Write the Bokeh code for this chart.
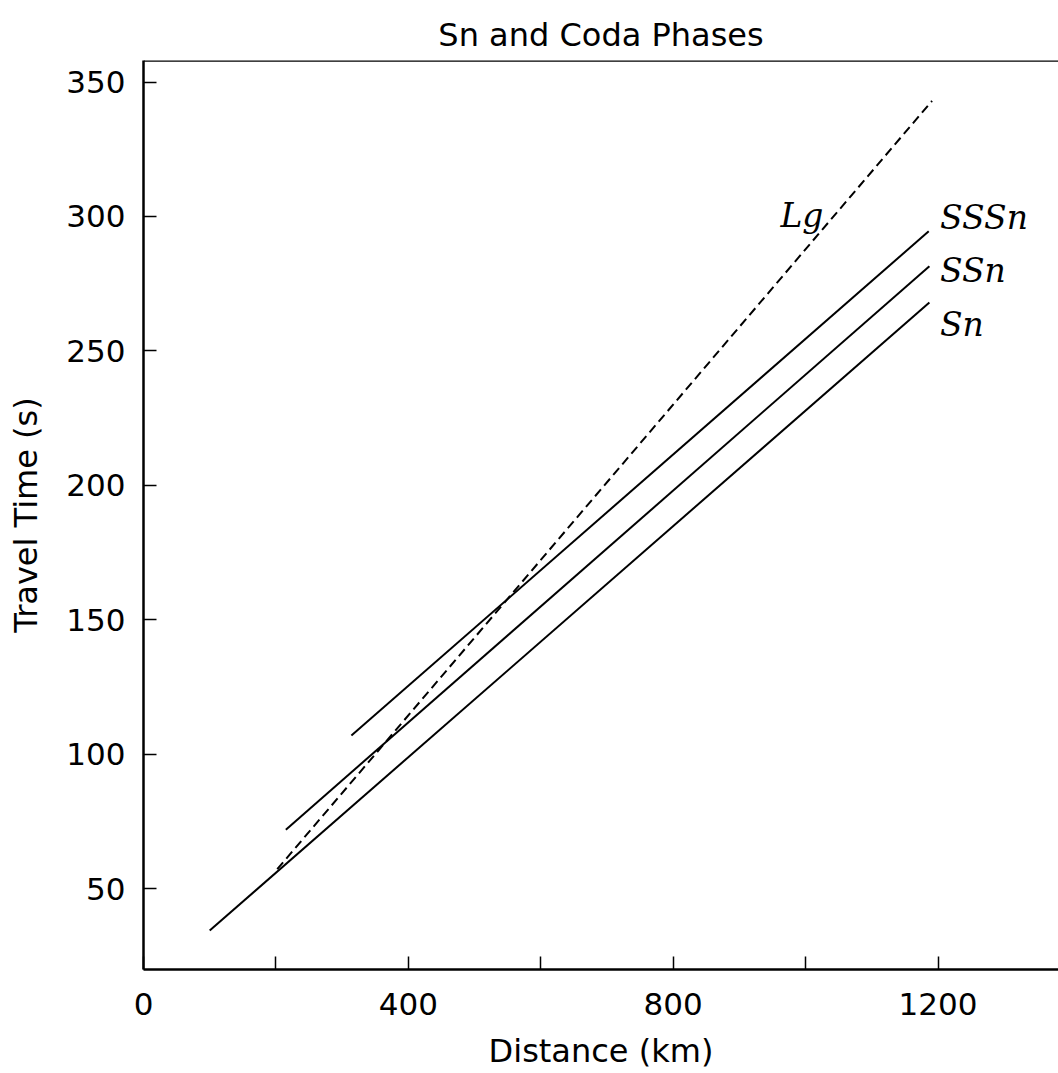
from bokeh.plotting import figure
from bokeh.models import FixedTicker, Span, ColumnDataSource
from bokeh.embed import file_html
from bokeh.resources import INLINE
from bokeh.core.properties import value

# Travel-time curves (distance km, time s)
distance_sn = [100, 1187]
time_sn = [34.5, 268.0]
distance_ssn = [215, 1187]
time_ssn = [72.0, 281.5]
distance_sssn = [314, 1186]
time_sssn = [107.0, 294.5]
distance_lg = [202, 1191]
time_lg = [57.3, 343.0]

# Phase labels
phase_names = ["Lg", "SSSn", "SSn", "Sn"]
phase_label_x = [962, 1203, 1203, 1203]
phase_label_y = [300.5, 299.7, 280.0, 260.0]

# Axis ticks
x_ticks = [0, 200, 400, 600, 800, 1000, 1200, 1400]
x_tick_labels = ["0", "", "400", "", "800", "", "1200", ""]
y_ticks = [50, 100, 150, 200, 250, 300, 350]

TITLE = "Sn and Coda Phases"
X_MIN, X_MAX = 0, 1382
Y_MIN, Y_MAX = 20, 358

p = figure(width=1058, height=1073, output_backend="svg", toolbar_location=None,
           x_range=(X_MIN, X_MAX), y_range=(Y_MIN, Y_MAX),
           min_border_left=143, min_border_right=0, min_border_top=60, min_border_bottom=104,
           background_fill_color="white", border_fill_color="white")
p.outline_line_color = None
p.grid.visible = False

FONT = "DejaVu Sans"
p.title.text = TITLE
p.title.align = "center"
p.title.vertical_align = "top"
p.title.text_font = FONT
p.title.text_font_size = "32px"
p.title.text_font_style = "normal"
p.title.text_color = "black"
p.title.standoff = 10

for ax in (p.xaxis[0], p.yaxis[0]):
    ax.axis_line_width = 2.5
    ax.axis_line_color = "black"
    ax.major_tick_in = 13
    ax.major_tick_out = 0
    ax.major_tick_line_width = 1.5
    ax.major_tick_line_color = "black"
    ax.minor_tick_in = 0
    ax.minor_tick_out = 0
    ax.major_label_text_font = FONT
    ax.major_label_text_font_size = "31px"
    ax.major_label_text_color = "black"
    ax.axis_label_text_font = FONT
    ax.axis_label_text_font_size = "32px"
    ax.axis_label_text_font_style = "normal"
    ax.axis_label_text_color = "black"

p.xaxis.ticker = FixedTicker(ticks=x_ticks)
p.xaxis.major_label_overrides = {t: lab for t, lab in zip(x_ticks, x_tick_labels)}
p.xaxis.axis_label = "Distance (km)"
p.xaxis.major_label_standoff = 23
p.xaxis.axis_label_standoff = 14

p.yaxis.ticker = FixedTicker(ticks=y_ticks)
p.yaxis.axis_label = "Travel Time (s)"
p.yaxis.major_label_standoff = 18
p.yaxis.axis_label_standoff = 18

# top frame line
p.add_layout(Span(location=Y_MAX, dimension="width", line_color="black", line_width=2.5))

p.line(distance_sn, time_sn, line_color="black", line_width=2)
p.line(distance_ssn, time_ssn, line_color="black", line_width=2)
p.line(distance_sssn, time_sssn, line_color="black", line_width=2)
p.line(distance_lg, time_lg, line_color="black", line_width=2, line_dash="9 5")

src = ColumnDataSource(dict(x=phase_label_x, y=phase_label_y, t=phase_names))
p.text(x="x", y="y", text="t", source=src, text_font=value("DejaVu Serif"),
       text_font_style="italic", text_font_size="33px", text_color="black",
       text_align="left", text_baseline="alphabetic")

open("out.html", "w").write(file_html(p, INLINE))
